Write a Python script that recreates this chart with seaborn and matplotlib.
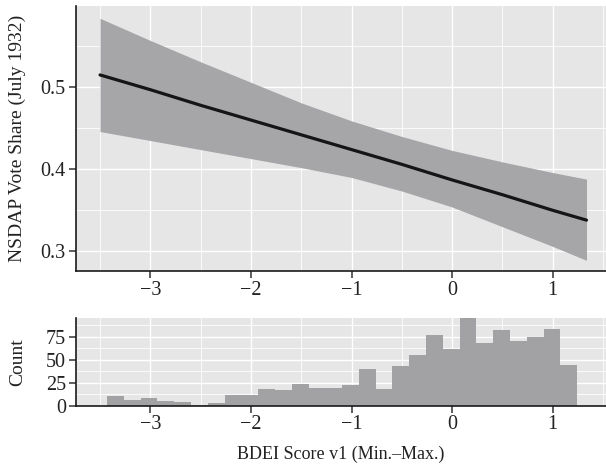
import numpy as np
import pandas as pd
import matplotlib
matplotlib.use("Agg")
import matplotlib.pyplot as plt
from matplotlib.ticker import MultipleLocator, FixedLocator
import seaborn as sns

# --- Daten ---
# Vorhergesagter NSDAP-Stimmenanteil mit Konfidenzband
bdei_x = [-3.5, -3.0, -2.5, -2.0, -1.5, -1.0, -0.5, 0.0, 0.5, 1.0, 1.336]
fit = [0.515, 0.497, 0.478, 0.460, 0.442, 0.424, 0.406, 0.387, 0.369, 0.350, 0.338]
ci_upper = [0.584, 0.557, 0.531, 0.506, 0.481, 0.459, 0.440, 0.423, 0.409, 0.396, 0.388]
ci_lower = [0.446, 0.435, 0.424, 0.413, 0.402, 0.390, 0.3735, 0.354, 0.330, 0.306, 0.289]

# Histogramm der BDEI-Werte
hist_start = -3.43
hist_binwidth = 0.1669
hist_counts = [11, 6, 8, 5, 4, 1, 3, 12, 12, 18, 17, 24, 19, 19,
               22, 40, 18, 43, 55, 77, 62, 95, 68, 82, 70, 75, 83, 44]

x_ticks = [-3, -2, -1, 0, 1]
top_yticks = [0.3, 0.4, 0.5]
bottom_yticks = [0, 25, 50, 75]

fit_df = pd.DataFrame({"x": bdei_x, "fit": fit, "lo": ci_lower, "hi": ci_upper})
edges = hist_start + hist_binwidth * np.arange(len(hist_counts) + 1)
hist_df = pd.DataFrame({"x": (edges[:-1] + edges[1:]) / 2, "n": hist_counts})

# --- Stil ---
sns.set_theme(style="darkgrid", rc={
    "axes.facecolor": "#e6e6e7",
    "grid.color": "white",
    "axes.edgecolor": "#1a1a1a",
})
plt.rcParams["font.family"] = ["Liberation Serif", "DejaVu Serif"]
text_color = "#222222"

fig = plt.figure(figsize=(6.06, 4.66), dpi=100)
ax_top = fig.add_axes([0.1246, 0.4174, 0.8754, 0.5697])
ax_bot = fig.add_axes([0.1246, 0.1294, 0.8754, 0.1876])

band_color = "#a6a6a9"

# oberes Panel: Vorhersage + Band
ax_top.fill_between(fit_df["x"], fit_df["lo"], fit_df["hi"], color=band_color, lw=0, zorder=2)
sns.lineplot(data=fit_df, x="x", y="fit", ax=ax_top, color="#151515", lw=2.3, zorder=3)

# unteres Panel: Histogramm
sns.histplot(data=hist_df, x="x", weights="n", binwidth=hist_binwidth,
             binrange=(edges[0], edges[-1]), ax=ax_bot,
             color="#a2a2a5", alpha=1, edgecolor="none", linewidth=0, zorder=2)

for ax in (ax_top, ax_bot):
    ax.set_xlim(-3.744, 1.53)
    ax.xaxis.set_major_locator(FixedLocator(x_ticks))
    ax.xaxis.set_minor_locator(MultipleLocator(0.5))
    ax.grid(which="major", color="white", lw=1.0)
    ax.grid(which="minor", color="white", lw=0.6)
    ax.set_axisbelow(True)
    for side in ("top", "right"):
        ax.spines[side].set_visible(False)
    for side in ("left", "bottom"):
        ax.spines[side].set_visible(True)
        ax.spines[side].set_linewidth(1.2)
        ax.spines[side].set_color("#1a1a1a")
    ax.tick_params(which="major", direction="out", length=5, width=1.1,
                   color="#333333", labelsize=14.5, labelcolor=text_color,
                   bottom=True, left=True, pad=2)
    ax.tick_params(which="minor", length=0)
    ax.set_xticklabels([f"{t}".replace("-", "\u2212") for t in x_ticks])

ax_top.set_ylim(0.2754, 0.599)
ax_top.yaxis.set_major_locator(FixedLocator(top_yticks))
ax_top.yaxis.set_minor_locator(MultipleLocator(0.05))
ax_top.set_xlabel("")
ax_top.set_ylabel("NSDAP Vote Share (July 1932)", fontsize=14, color=text_color)

ax_bot.set_ylim(0, 95)
ax_bot.yaxis.set_major_locator(FixedLocator(bottom_yticks))
ax_bot.yaxis.set_minor_locator(MultipleLocator(12.5))
ax_bot.set_xlabel("BDEI Score v1 (Min.\u2013Max.)", fontsize=13, color=text_color, labelpad=8)
ax_bot.set_ylabel("Count", fontsize=14, color=text_color)

ax_top.yaxis.set_label_coords(-0.093, 0.5)
ax_bot.yaxis.set_label_coords(-0.093, 0.5)

fig.savefig("out.png", dpi=100)
